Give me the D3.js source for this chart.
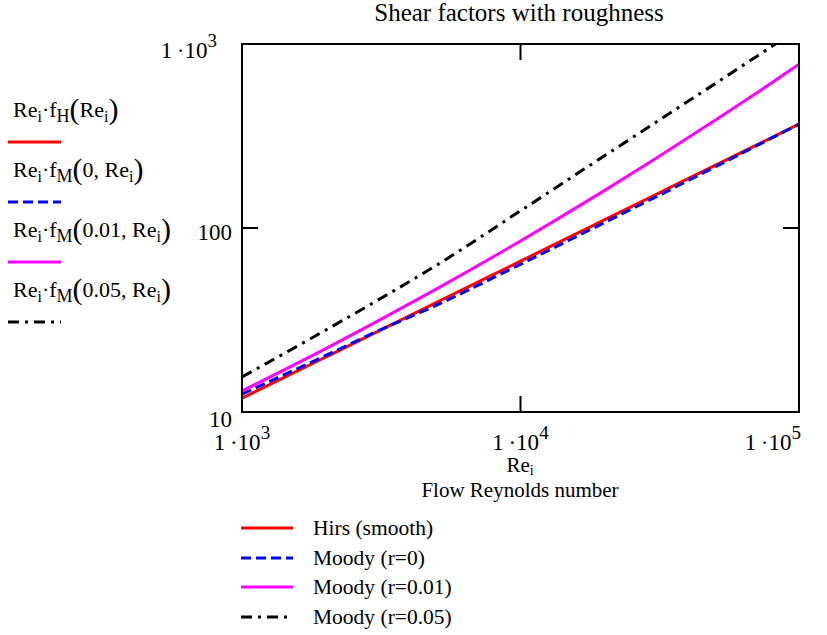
<!DOCTYPE html>
<html>
<head>
<meta charset="utf-8">
<script src="https://cdn.jsdelivr.net/npm/d3@7"></script>
<style>
  body { margin: 0; background: #fff; }
  text { font-family: "Liberation Serif", "Times New Roman", serif; fill: #000; }
</style>
</head>
<body>
<div id="chart"></div>
<script>
// Reynolds numbers sampled along the curves
var reynolds = [1000, 2000, 3000, 5000, 10000, 20000, 30000, 50000, 70000, 100000];

// Re * f values
var hirsSmooth = [11.9, 19.9, 26.9, 39.4, 66.0, 110.6, 149.6, 219, 281, 367];
var moody0 = [12.5, 20.3, 27.1, 38.1, 63.5, 106.9, 145.2, 214.8, 278.6, 367];
var moody001 = [13.0, 22.1, 30.6, 46.7, 85.0, 159.6, 234, 384.8, 538, 776];
var moody005 = [15.5, 27.9, 39.7, 62.8, 124, 246.6, 368, 609, 851, 1211];

var seriesNames = ["Hirs (smooth)", "Moody (r=0)", "Moody (r=0.01)", "Moody (r=0.05)"];
var seriesColors = ["#ff0000", "#0000ff", "#ff00ff", "#000000"];
var seriesDash = [null, "10,5", null, "11,6,3,6"];
var seriesValues = [hirsSmooth, moody0, moody001, moody005];

// left legend labels: sub of f, argument
var exprSub = ["H", "M", "M", "M"];
var exprArg = ["", "0, ", "0.01, ", "0.05, "];

var xTicks = [1e3, 1e4, 1e5];
var xTickExp = ["3", "4", "5"];

var width = 827;
var height = 635;
var plot = { left: 242, right: 799, top: 44, bottom: 412 };

var svg = d3.select("#chart")
    .append("svg")
    .attr("width", width)
    .attr("height", height);

var x = d3.scaleLog().domain([1e3, 1e5]).range([plot.left, plot.right]);
var y = d3.scaleLog().domain([10, 1000]).range([plot.bottom, plot.top]);

svg.append("defs").append("clipPath")
    .attr("id", "clip")
    .append("rect")
    .attr("x", plot.left)
    .attr("y", plot.top)
    .attr("width", plot.right - plot.left)
    .attr("height", plot.bottom - plot.top);

// title
svg.append("text")
    .attr("x", 519)
    .attr("y", 21)
    .attr("text-anchor", "middle")
    .style("font-size", "25px")
    .text("Shear factors with roughness");

// curves
var line = d3.line()
    .curve(d3.curveMonotoneX)
    .x(function(d) { return x(d[0]); })
    .y(function(d) { return y(d[1]); });

var g = svg.append("g").attr("clip-path", "url(#clip)");
seriesValues.forEach(function(vals, i) {
    var pts = reynolds.map(function(r, j) { return [r, vals[j]]; });
    g.append("path")
        .datum(pts)
        .attr("d", line)
        .attr("fill", "none")
        .attr("stroke", seriesColors[i])
        .attr("stroke-width", 3)
        .attr("stroke-dasharray", seriesDash[i]);
});

// frame
svg.append("rect")
    .attr("x", plot.left)
    .attr("y", plot.top)
    .attr("width", plot.right - plot.left)
    .attr("height", plot.bottom - plot.top)
    .attr("fill", "none")
    .attr("stroke", "#000")
    .attr("stroke-width", 2);

// inner ticks on all four sides
var tickLen = 16;
var tickG = svg.append("g").attr("stroke", "#000").attr("stroke-width", 2);
tickG.append("line")
    .attr("x1", x(1e4)).attr("x2", x(1e4))
    .attr("y1", plot.bottom).attr("y2", plot.bottom - tickLen);
tickG.append("line")
    .attr("x1", x(1e4)).attr("x2", x(1e4))
    .attr("y1", plot.top).attr("y2", plot.top + tickLen);
tickG.append("line")
    .attr("x1", plot.left).attr("x2", plot.left + tickLen)
    .attr("y1", y(100)).attr("y2", y(100));
tickG.append("line")
    .attr("x1", plot.right).attr("x2", plot.right - tickLen)
    .attr("y1", y(100)).attr("y2", y(100));

function powLabel(sel, exp) {
    sel.append("tspan").text("1\u2009\u00b710");
    sel.append("tspan").attr("dy", -11).style("font-size", "19px").text(exp);
}

// y tick labels
var yl = svg.append("text")
    .attr("x", 217)
    .attr("y", y(1000) + 14)
    .attr("text-anchor", "end")
    .style("font-size", "23px");
powLabel(yl, "3");

svg.append("text")
    .attr("x", 232)
    .attr("y", y(100) + 12)
    .attr("text-anchor", "end")
    .style("font-size", "23px")
    .text("100");

svg.append("text")
    .attr("x", 232)
    .attr("y", y(10) + 15)
    .attr("text-anchor", "end")
    .style("font-size", "23px")
    .text("10");

// x tick labels
xTicks.forEach(function(t, i) {
    var anchor = i === 2 ? "end" : "middle";
    var xpos = i === 2 ? plot.right + 2 : x(t);
    var tx = svg.append("text")
        .attr("x", xpos)
        .attr("y", 450)
        .attr("text-anchor", anchor)
        .style("font-size", "23px");
    powLabel(tx, xTickExp[i]);
});

// x axis labels
var xl = svg.append("text")
    .attr("x", 520)
    .attr("y", 472)
    .attr("text-anchor", "middle")
    .style("font-size", "21px");
xl.append("tspan").text("Re");
xl.append("tspan").attr("dy", 3).style("font-size", "14px").text("i");

svg.append("text")
    .attr("x", 520)
    .attr("y", 497)
    .attr("text-anchor", "middle")
    .style("font-size", "21px")
    .text("Flow Reynolds number");

// bottom legend
var legY = [528, 558, 587, 617];
seriesNames.forEach(function(name, i) {
    svg.append("line")
        .attr("x1", 241).attr("x2", 293)
        .attr("y1", legY[i]).attr("y2", legY[i])
        .attr("stroke", seriesColors[i])
        .attr("stroke-width", 3)
        .attr("stroke-dasharray", seriesDash[i]);
    svg.append("text")
        .attr("x", 313)
        .attr("y", legY[i] + 7)
        .style("font-size", "21.5px")
        .text(name);
});

// left legend (expressions)
var exprY = [110, 170, 230, 290];
seriesNames.forEach(function(name, i) {
    var t = svg.append("text")
        .attr("x", 13)
        .attr("y", exprY[i] + 7)
        .style("font-size", "22px");
    t.append("tspan").text("Re");
    t.append("tspan").attr("dy", 5).style("font-size", "16px").text("i");
    t.append("tspan").attr("dy", -5).text("\u00b7f");
    t.append("tspan").attr("dy", 5).style("font-size", "18px").text(exprSub[i]);
    t.append("tspan").attr("dy", -3).style("font-size", "30px").text("(");
    t.append("tspan").attr("dy", -2).text(exprArg[i] + "Re");
    t.append("tspan").attr("dy", 5).style("font-size", "16px").text("i");
    t.append("tspan").attr("dy", -3).style("font-size", "30px").text(")");

    svg.append("line")
        .attr("x1", 8).attr("x2", 61)
        .attr("y1", exprY[i] + 32).attr("y2", exprY[i] + 32)
        .attr("stroke", seriesColors[i])
        .attr("stroke-width", 3)
        .attr("stroke-dasharray", seriesDash[i]);
});
</script>
</body>
</html>
